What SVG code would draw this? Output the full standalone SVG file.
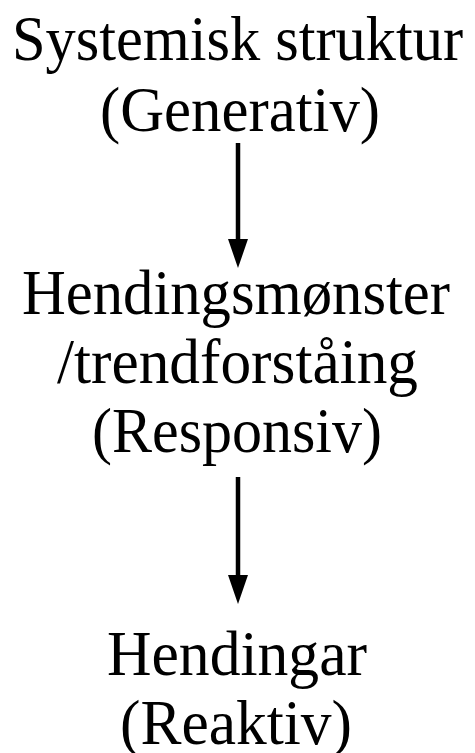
<svg xmlns="http://www.w3.org/2000/svg" width="475" height="753" viewBox="0 0 475 753">
<style>
.t{font-family:"Liberation Serif","Times New Roman",serif;font-size:64px;fill:#000;text-anchor:middle}
.ln{stroke:#000;stroke-width:4.5;fill:none;marker-end:url(#ah)}
</style>
<defs>
<marker id="ah" markerUnits="userSpaceOnUse" markerWidth="29" markerHeight="20" refX="2" refY="10" orient="auto" viewBox="0 0 29 20">
<polygon points="0,0 29,10 0,20" fill="#000"/>
</marker>
</defs>
<rect width="475" height="753" fill="#fff"/>
<g id="node-systemisk">
<text class="t" x="237.5" y="60" textLength="451" lengthAdjust="spacingAndGlyphs">Systemisk struktur</text>
<text class="t" x="240" y="131" textLength="280" lengthAdjust="spacingAndGlyphs">(Generativ)</text>
</g>
<g id="node-hendingsmonster">
<text class="t" x="236" y="314" textLength="428" lengthAdjust="spacingAndGlyphs">Hendingsmønster</text>
<text class="t" x="237.5" y="383" textLength="361" lengthAdjust="spacingAndGlyphs">/trendforståing</text>
<text class="t" x="237" y="452" textLength="290" lengthAdjust="spacingAndGlyphs">(Responsiv)</text>
</g>
<g id="node-hendingar">
<text class="t" x="237" y="675" textLength="260" lengthAdjust="spacingAndGlyphs">Hendingar</text>
<text class="t" x="236" y="744" textLength="232" lengthAdjust="spacingAndGlyphs">(Reaktiv)</text>
</g>
<g id="connectors">
<line class="ln" x1="238" y1="143" x2="238" y2="241"/>
<line class="ln" x1="238" y1="477" x2="238" y2="577"/>
</g>
</svg>
